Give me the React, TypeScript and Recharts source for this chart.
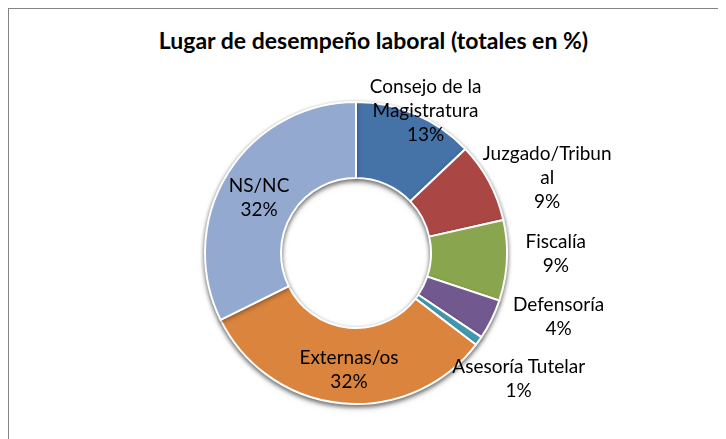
import React from "react";
import { PieChart, Pie, Cell } from "recharts";

const categories = [
  "Consejo de la\nMagistratura",
  "Juzgado/Tribun\nal",
  "Fiscalía",
  "Defensoría",
  "Asesoría Tutelar",
  "Externas/os",
  "NS/NC",
];
const values = [12.9, 8.6, 8.6, 4.3, 1.0, 32.3, 32.3];
const colors = ["#4572A7", "#AA4643", "#89A54E", "#71588F", "#4198AF", "#DB843D", "#93A9CF"];
const title = "Lugar de desempeño laboral (totales en %)";

// label placement: "out" anchored at outer edge, "in" anchored at ring middle
const labelLayout = [
  { at: "out", dx: 10, dy: -5 },
  { at: "out", dx: 58, dy: -5 },
  { at: "out", dx: 49, dy: -8 },
  { at: "out", dx: 67, dy: -4 },
  { at: "out", dx: 40, dy: 37 },
  { at: "in", dx: 4, dy: 3 },
  { at: "in", dx: -1, dy: 3 },
];

const data = categories.map((name, i) => ({ name, value: values[i] }));
const total = values.reduce((a, b) => a + b, 0);

const LINE = 24;
const FONT = "Lato, 'Open Sans', sans-serif";

const renderLabel = (props: any) => {
  const { cx, cy, midAngle, innerRadius, outerRadius, index } = props;
  const lay = labelLayout[index];
  const r = lay.at === "in" ? (innerRadius + outerRadius) / 2 : outerRadius;
  const rad = (Math.PI / 180) * midAngle;
  const x = cx + r * Math.cos(rad) + lay.dx;
  const y = cy - r * Math.sin(rad) + lay.dy;
  const pct = Math.round((values[index] / total) * 100) + "%";
  const lines = [...categories[index].split("\n"), pct];
  const y0 = y - ((lines.length - 1) * LINE) / 2;
  return (
    <text
      key={"l" + index}
      x={x}
      y={y0}
      textAnchor="middle"
      fill="#000"
      fontSize={19}
      fontFamily={FONT}
    >
      {lines.map((t, k) => (
        <tspan key={k} x={x} y={y0 + k * LINE} dominantBaseline="central">
          {t}
        </tspan>
      ))}
    </text>
  );
};

export default function App() {
  return (
    <div
      style={{
        position: "relative",
        width: 717,
        height: 430,
        borderTop: "1px solid #858585",
        borderLeft: "1px solid #858585",
        background: "#fff",
      }}
    >
      <style>{`.donut { filter: drop-shadow(0px 2px 2px rgba(0,0,0,0.35)); }`}</style>
      <div
        style={{
          position: "absolute",
          left: 364.5,
          top: 18,
          transform: "translateX(-50%)",
          whiteSpace: "nowrap",
          fontFamily: FONT,
          fontWeight: "bold",
          fontSize: 23,
          lineHeight: "26px",
          color: "#000",
        }}
      >
        {title}
      </div>
      <PieChart
        width={717}
        height={430}
        margin={{ top: 0, right: 0, bottom: 0, left: 0 }}
        style={{ position: "absolute", left: 0, top: 0 }}
      >
        <Pie
          className="donut"
          data={data}
          dataKey="value"
          nameKey="name"
          cx={347}
          cy={244}
          innerRadius={75}
          outerRadius={151}
          startAngle={90}
          endAngle={-270}
          stroke="#fff"
          strokeWidth={2}
          isAnimationActive={false}
          label={false}
          labelLine={false}
        >
          {data.map((d, i) => (
            <Cell key={i} fill={colors[i]} />
          ))}
        </Pie>
        <Pie
          className="labels"
          data={data}
          dataKey="value"
          nameKey="name"
          cx={347}
          cy={244}
          innerRadius={75}
          outerRadius={151}
          startAngle={90}
          endAngle={-270}
          fill="none"
          stroke="none"
          isAnimationActive={false}
          label={renderLabel}
          labelLine={false}
        >
          {data.map((d, i) => (
            <Cell key={i} fill="none" stroke="none" />
          ))}
        </Pie>
      </PieChart>
    </div>
  );
}
